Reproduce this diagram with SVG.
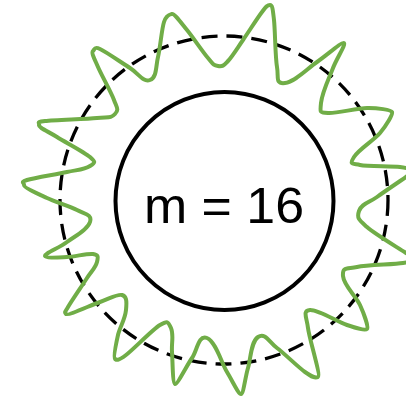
<svg xmlns="http://www.w3.org/2000/svg" width="406" height="400" viewBox="0 0 406 400">
<style>
.ring{fill:none;stroke:#000;stroke-width:3.3;stroke-dasharray:16 9}
.core{fill:#fff;stroke:#000;stroke-width:4}
.wave{fill:none;stroke:#70AD47;stroke-width:4;stroke-linejoin:round}
.label{font-family:"Liberation Sans",Arial,sans-serif;font-size:50px;fill:#000;text-anchor:middle}
</style>
<rect width="406" height="400" fill="#fff"/>
<g id="connectors">
<circle id="dashed-ring" class="ring" cx="224" cy="200" r="164"/>
<path id="wave" class="wave" d="M 270 5 C 267.5 5 266.5 6.17 262 12 S 248.67 31.83 243 40 S 232.17 56.67 228 61 S 223 66.75 218 66 S 213.17 64 208 58 S 193 37.33 187 30 S 174.4 13.33 172 14 S 166.33 14.83 164 22 S 160.33 47.33 158 57 S 157 77.25 150 80 S 138.33 73.17 130 68 S 106.17 51.83 100 49 S 94.9 49.35 93 51 S 94.5 58.83 98 67 S 111.17 92.17 114 100 S 119.25 109.5 115 114 S 108.67 116.83 97 118 S 54.67 119.83 45 121 S 39.95 122.7 39 125 S 48.5 131.67 57 137 S 84.5 152.17 90 157 S 95.75 162.25 90 166 S 77.5 169.67 67 172 S 34.17 177.83 27 180 S 24.2 182.5 24 185 S 38.17 193.83 47 198 S 69.83 206 77 210 S 92.5 214 90 222 S 74.5 236.33 67 242 S 44.25 253.6 45 256 S 59 257.33 67 257 S 88 253.17 93 254 S 98.5 256 97 262 S 91.83 270.5 87 278 S 71.5 301 68 307 S 64.55 312 66 314 S 90.67 305.17 100 302 S 117.67 293.67 122 295 S 127 300 126 310 S 119.83 326.83 118 335 S 113 357.6 115 359 S 118.5 360.67 126 355 S 152.5 329.5 160 325 S 168 321.25 171 328 S 171.33 342.67 172 352 S 172.6 383.35 175 384 S 186.67 365.67 192 358 S 198.25 334.5 207 338 S 221.33 362.67 227 372 S 238.5 394.2 241 394 S 245.17 377.5 248 368 S 250.75 342 258 337 S 269.17 342.17 277 348 S 298.17 367.17 305 372 S 315 378.6 318 377 S 309.33 339.17 308 328 S 302.2 310.6 310 310 S 337.5 321.83 347 325 S 365.3 330.85 367 329 S 364 313.83 360 305 S 343.75 285.5 343 276 S 347 269.17 357 267 S 393.5 264.5 403 263 S 413.3 260.4 414 258 S 413.83 258.17 406 253 S 374.83 234 367 227 S 356.5 218.5 359 211 S 369.17 202.67 377 197 S 400 181.17 406 177 S 413.4 174.5 413 172 S 408.83 168.17 400 167 S 367.67 166.67 360 165 S 349 165 354 157 S 373.67 140.5 380 133 S 393.16 114.2 392 112 S 377.67 107.83 367 108 S 335.67 113.83 328 113 S 319.75 114.25 321 103 S 329.17 78 333 68 S 346 44.5 344 43 S 326.83 55.33 317 62 S 295 81.75 285 83 S 278.83 77.5 277 67 S 275.17 30.33 274 20 S 272.5 5 270 5 Z"/>
</g>
<g id="node-m16">
<circle class="core" cx="224.5" cy="201" r="109"/>
<text class="label" x="224" y="223" textLength="160" lengthAdjust="spacingAndGlyphs">m = 16</text>
</g>
</svg>
